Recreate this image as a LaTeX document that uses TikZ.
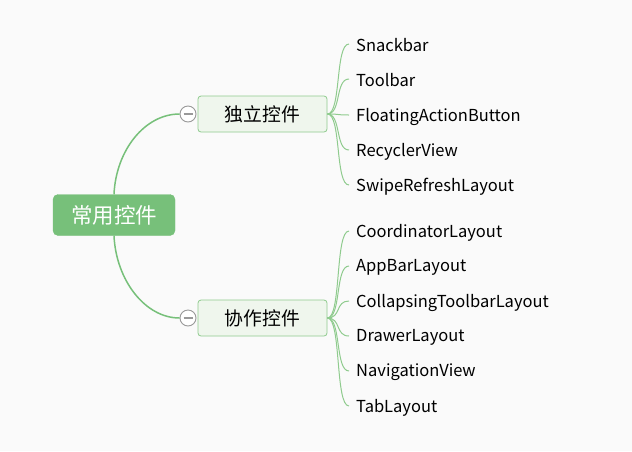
\documentclass[tikz,border=0pt]{standalone}
\usepackage{fontspec}
\newfontfamily\cjk{Noto Sans CJK SC}
\setmainfont{Noto Sans CJK SC}
\begin{document}
\begin{tikzpicture}[x=1pt,y=-1pt,
  rootbox/.style={draw=rootgreen,fill=rootgreen,rounded corners=5pt,minimum width=122pt,minimum height=41pt,inner sep=0pt,text=white,font=\fontsize{21.5}{22}\selectfont},
  midbox/.style={draw=midborder,fill=midfill,rounded corners=3pt,line width=0.8pt,minimum width=129pt,minimum height=36pt,inner sep=0pt,font=\fontsize{18.8}{20}\selectfont},
  leaf/.style={anchor=west,inner sep=0pt,font=\fontsize{16.5}{18}\selectfont},
  toggle/.style={circle,draw=gray!80,fill=white,line width=0.9pt,minimum size=16pt,inner sep=0pt,
    path picture={\draw[gray!80,line width=1.1pt] ([xshift=-4.5pt]path picture bounding box.center) -- ([xshift=4.5pt]path picture bounding box.center);}},
  mainlink/.style={draw=rootgreen,line width=1.5pt},
  leaflink/.style={draw=leafline,line width=1pt}]
\definecolor{rootgreen}{HTML}{77C07A}
\definecolor{midborder}{HTML}{8FCB8E}
\definecolor{midfill}{HTML}{EFF6ED}
\definecolor{leafline}{HTML}{8FCB8E}
\definecolor{bg}{HTML}{FAFAFA}
\fill[bg] (0,0) rectangle (632,451);
\useasboundingbox (0,0) rectangle (632,451);

\node[rootbox] (root) at (114,215) {常用控件};
\node[midbox] (a) at (262.5,114) {独立控件};
\node[midbox] (b) at (262.5,318) {协作控件};
\node[toggle] (ta) at (188,114) {};
\node[toggle] (tb) at (188,318) {};

\draw[mainlink] (root.north) .. controls (116,150) and (145,114) .. (ta.west);
\draw[mainlink] (root.south) .. controls (116,280) and (145,318) .. (tb.west);

\foreach \n/\t/\y in {a1/Snackbar/45.5, a2/Toolbar/80.5, a3/FloatingActionButton/116.5, a4/RecyclerView/151.5, a5/SwipeRefreshLayout/186.5}{
  \node[leaf] (\n) at (356,\y) {\t};
  \draw[leaflink] (a.east) .. controls +(14,0) and +(-14,0) .. ([xshift=-7pt,yshift=1.5pt]\n.west);
}
\foreach \n/\t/\y in {b1/CoordinatorLayout/232.5, b2/AppBarLayout/267.5, b3/CollapsingToolbarLayout/302.5, b4/DrawerLayout/337.5, b5/NavigationView/372.5, b6/TabLayout/407.5}{
  \node[leaf] (\n) at (356,\y) {\t};
  \draw[leaflink] (b.east) .. controls +(14,0) and +(-14,0) .. ([xshift=-7pt,yshift=1.5pt]\n.west);
}
\end{tikzpicture}
\end{document}
